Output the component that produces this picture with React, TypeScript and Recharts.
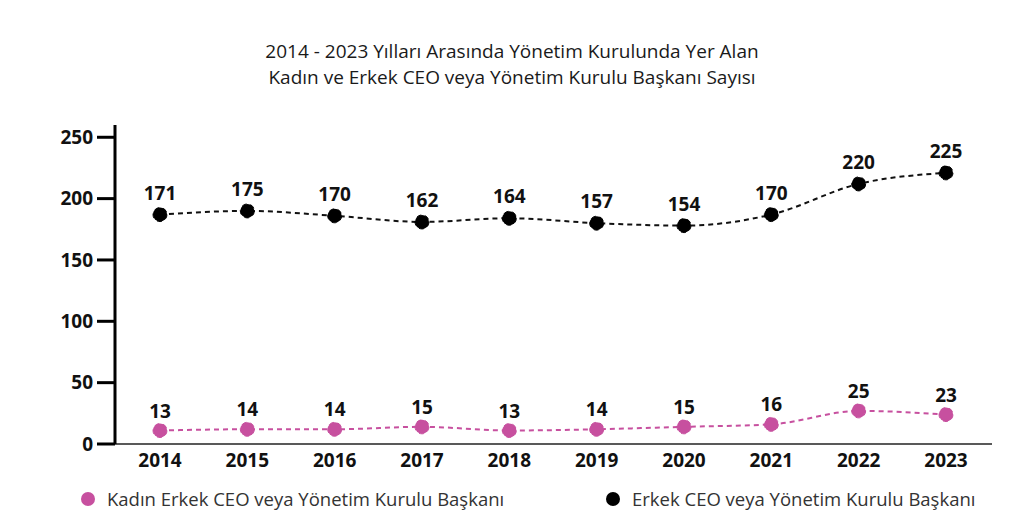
import React from 'react';
import { LineChart, Line, XAxis, YAxis, LabelList } from 'recharts';

const years = ['2014', '2015', '2016', '2017', '2018', '2019', '2020', '2021', '2022', '2023'];

// printed labels
const maleLabels = [171, 175, 170, 162, 164, 157, 154, 170, 220, 225];
const femaleLabels = [13, 14, 14, 15, 13, 14, 15, 16, 25, 23];

// where the dots sit on the axis in the picture
const maleValues = [187, 190, 186, 181, 184, 180, 178, 187, 212, 221];
const femaleValues = [11, 12, 12, 14, 11, 12, 14, 16, 27, 24];

const yTicks = [0, 50, 100, 150, 200, 250];

const PINK = '#c7509f';
const FONT = '"Open Sans", "DejaVu Sans", sans-serif';

const data = years.map((year, i) => ({
  year,
  male: maleValues[i],
  female: femaleValues[i],
  maleLabel: maleLabels[i],
  femaleLabel: femaleLabels[i],
}));

const labelStyle = { fontSize: 19, fontWeight: 700, fill: '#111', fontFamily: FONT };

const App: React.FC = () => {
  return (
    <div style={{ position: 'relative', width: 1024, height: 526, margin: -8, background: '#fff', fontFamily: FONT }}>
      <div
        style={{
          position: 'absolute',
          top: 38,
          left: 0,
          width: 1024,
          textAlign: 'center',
          fontSize: 19,
          fontWeight: 500,
          lineHeight: '26px',
          color: '#1a1a1a',
        }}
      >
        2014 - 2023 Yılları Arasında Yönetim Kurulunda Yer Alan
        <br />
        Kadın ve Erkek CEO veya Yönetim Kurulu Başkanı Sayısı
      </div>

      <LineChart
        width={1024}
        height={526}
        data={data}
        margin={{ top: 125, right: 32, bottom: 52, left: 0 }}
        style={{ position: 'absolute', top: 0, left: 0 }}
      >
        <XAxis
          dataKey="year"
          height={30}
          padding={{ left: 45, right: 46 }}
          axisLine={{ stroke: '#222', strokeWidth: 1.5 }}
          tickLine={false}
          tickSize={0}
          tickMargin={10}
          tick={{ fontSize: 19, fontWeight: 700, fill: '#111', fontFamily: FONT }}
          interval={0}
        />
        <YAxis
          width={115}
          domain={[0, 260]}
          ticks={yTicks}
          axisLine={{ stroke: '#000', strokeWidth: 3 }}
          tickLine={{ stroke: '#000', strokeWidth: 3 }}
          tickSize={18}
          tickMargin={4}
          tick={{ fontSize: 19, fontWeight: 700, fill: '#111', fontFamily: FONT }}
        />
        <Line
          type="monotone"
          dataKey="male"
          stroke="#111"
          strokeWidth={2}
          strokeDasharray="5 4"
          dot={{ r: 7, fill: '#000', stroke: '#000', strokeWidth: 1 }}
          activeDot={false}
          isAnimationActive={false}
        >
          <LabelList dataKey="maleLabel" position="top" offset={15} style={labelStyle} />
        </Line>
        <Line
          type="monotone"
          dataKey="female"
          stroke={PINK}
          strokeWidth={2}
          strokeDasharray="5 4"
          dot={{ r: 7, fill: PINK, stroke: PINK, strokeWidth: 1 }}
          activeDot={false}
          isAnimationActive={false}
        >
          <LabelList dataKey="femaleLabel" position="top" offset={13} style={labelStyle} />
        </Line>
      </LineChart>

      <div style={{ position: 'absolute', top: 486, left: 81, display: 'flex', alignItems: 'center', fontSize: 18.5, color: '#333' }}>
        <span style={{ width: 14, height: 14, borderRadius: 7, background: PINK, display: 'inline-block', marginRight: 12 }} />
        Kadın Erkek CEO veya Yönetim Kurulu Başkanı
      </div>
      <div style={{ position: 'absolute', top: 486, left: 606, display: 'flex', alignItems: 'center', fontSize: 18.5, color: '#333' }}>
        <span style={{ width: 14, height: 14, borderRadius: 7, background: '#000', display: 'inline-block', marginRight: 12 }} />
        Erkek CEO veya Yönetim Kurulu Başkanı
      </div>
    </div>
  );
};

export default App;
